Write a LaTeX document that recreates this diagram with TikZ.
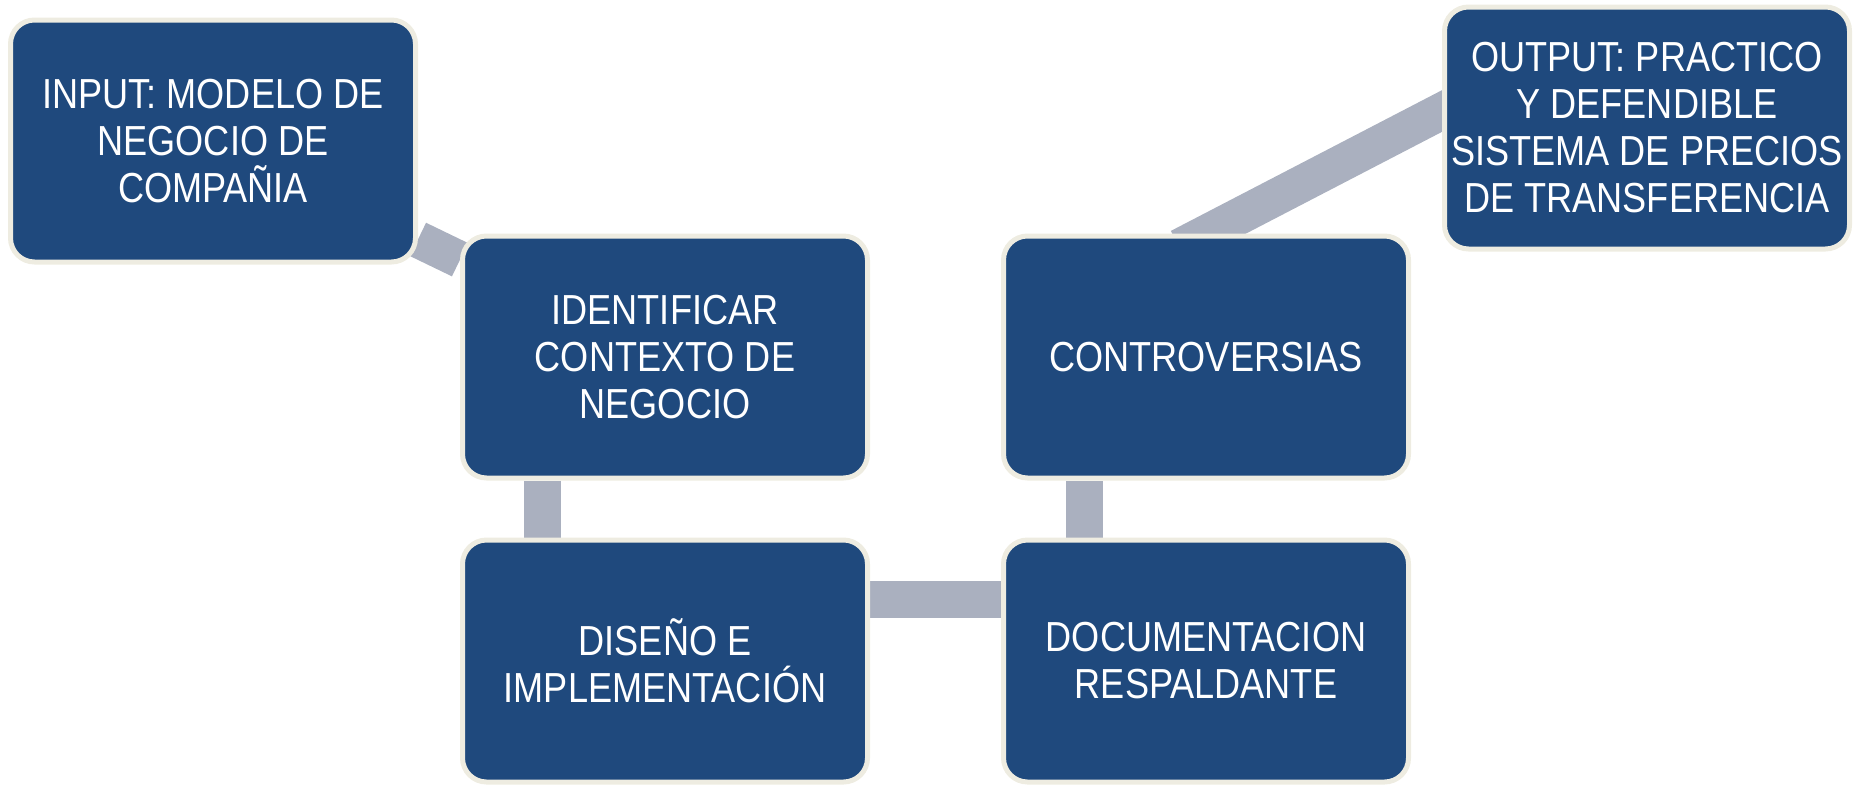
\documentclass[tikz,border=0pt]{standalone}
\usepackage{fontspec}
\setmainfont[FakeStretch=0.86]{Liberation Sans}
\usetikzlibrary{positioning,backgrounds}

\definecolor{boxblue}{RGB}{31,73,125}
\definecolor{boxrim}{RGB}{238,236,225}
\definecolor{bandgray}{RGB}{170,176,191}

\begin{document}
\begin{tikzpicture}[x=1pt,y=-1pt]
				\tikzstyle{mybox} = [draw=boxrim, line width=5pt, fill=boxblue, rounded corners=24pt,
					minimum width=405pt, minimum height=242pt, align=center, text=white,
					font=\fontsize{42}{47}\selectfont]
				\tikzstyle{myband} = [draw=bandgray, line width=37pt, line cap=butt]
				
				\useasboundingbox (0,0) rectangle (1854,785);
				
				\node[mybox] (input) at (213,141) {INPUT: MODELO DE\\NEGOCIO DE\\COMPAÑIA};
				\node[mybox] (ident) at (665,357) {IDENTIFICAR\\CONTEXTO DE\\NEGOCIO};
				\node[mybox] (diseno) at (665,661) {DISEÑO E\\IMPLEMENTACIÓN};
				\node[mybox] (docu) at (1206,661) {DOCUMENTACION\\RESPALDANTE};
				\node[mybox] (contr) at (1206,357) {CONTROVERSIAS};
				\node[mybox] (output) at (1647,128) {OUTPUT: PRACTICO\\Y DEFENDIBLE\\SISTEMA DE PRECIOS\\DE TRANSFERENCIA};
				
				\begin{pgfonlayer}{background}
				\draw [myband] (input) -- (ident);
				\draw [myband] ([xshift=82pt]ident.south west) -- ([xshift=82pt]diseno.north west);
				\draw [myband] ([yshift=-62pt]diseno.north east) -- ([yshift=-62pt]docu.north west);
				\draw [myband] ([xshift=83pt]docu.north west) -- ([xshift=83pt]contr.south west);
				\draw [myband, shorten <=-30pt, shorten >=-30pt] (contr.north) -- ([yshift=17pt]output.west);
				\end{pgfonlayer}
				
				\end{tikzpicture}
\end{document}
